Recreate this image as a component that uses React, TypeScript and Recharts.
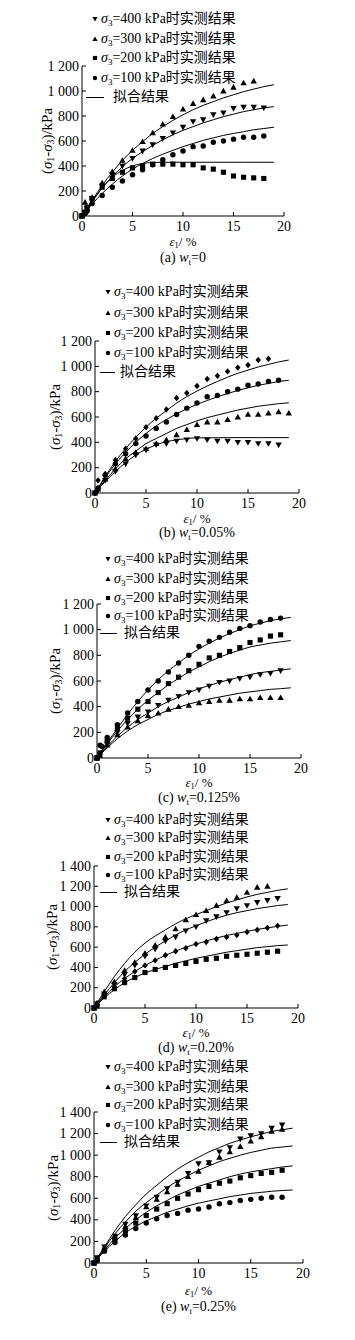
import React from 'react';
import { ComposedChart, Line, Scatter, XAxis, YAxis } from 'recharts';

type Pt = [number, number];

// ---------- tick labels / text ----------
const X_TICKS = [0, 5, 10, 15, 20];
const Y_TICKS_1200 = [0, 200, 400, 600, 800, 1000, 1200];
const Y_TICKS_1400 = [0, 200, 400, 600, 800, 1000, 1200, 1400];
const CONFINING = ['400', '300', '200', '100'];
const FIT_LABEL = '拟合结果';
const CAPTION_LETTERS = ['(a)', '(b)', '(c)', '(d)', '(e)'];
const CAPTION_VALUES = ['0', '0.05%', '0.125%', '0.20%', '0.25%'];

// ---------- panel (a) w_t = 0 ----------
const a400: Pt[] = [[0,0],[0.3,30],[0.5,60],[1,140],[2,240],[3,330],[4,400],[5,460],[6,520],[7,570],[8,620],[9,665],[10,710],[11,755],[12,770],[13,810],[14,825],[15,860],[16,870],[17,870],[18,865]];
const a300: Pt[] = [[0,0],[0.3,110],[0.5,60],[1,150],[2,265],[3,355],[4,445],[5,525],[6,595],[7,665],[8,735],[9,795],[10,855],[11,900],[12,930],[13,960],[14,1000],[15,1030],[16,1065],[17,1080]];
const a200: Pt[] = [[0,0],[0.3,30],[0.5,70],[1,140],[2,230],[3,300],[4,350],[5,385],[6,400],[7,415],[8,415],[9,415],[10,410],[11,410],[12,385],[13,375],[14,350],[15,320],[16,310],[17,305],[18,300]];
const a100: Pt[] = [[0,0],[0.3,20],[0.5,40],[1,100],[2,165],[3,230],[4,280],[5,330],[6,370],[7,410],[8,450],[9,490],[10,520],[11,555],[12,560],[13,590],[14,600],[15,615],[16,630],[17,630],[18,640]];
const aFit1: Pt[] = [[0,0],[1,125],[2,245],[3,350],[4,445],[5,525],[6,595],[7,660],[8,715],[9,765],[10,810],[11,850],[12,885],[13,915],[14,945],[15,970],[16,995],[17,1015],[18,1035],[19,1050]];
const aFit2: Pt[] = [[0,0],[1,115],[2,225],[3,315],[4,395],[5,460],[6,515],[7,565],[8,610],[9,650],[10,685],[11,715],[12,745],[13,770],[14,795],[15,815],[16,835],[17,850],[18,865],[19,875]];
const aFit3: Pt[] = [[0,0],[1,95],[2,180],[3,255],[4,320],[5,375],[6,420],[7,460],[8,495],[9,525],[10,555],[11,580],[12,605],[13,625],[14,645],[15,660],[16,675],[17,690],[18,700],[19,710]];
const aFit4: Pt[] = [[0,0],[1,115],[2,225],[3,310],[4,365],[5,400],[6,420],[7,428],[8,430],[10,430],[13,430],[16,430],[19,430]];

// ---------- panel (b) w_t = 0.05% ----------
const bTop: Pt[] = [[0,0],[0.3,100],[1,150],[2,260],[3,350],[4,430],[5,520],[6,590],[7,660],[8,750],[9,790],[10,845],[11,900],[12,925],[13,960],[14,990],[15,1010],[16,1050],[17,1060]];
const bSecond: Pt[] = [[0,0],[0.3,40],[1,140],[2,230],[3,310],[4,390],[5,450],[6,510],[7,560],[8,620],[9,670],[10,710],[11,760],[12,770],[13,800],[14,820],[15,850],[16,860],[17,880],[18,890]];
const bThird: Pt[] = [[0,0],[0.3,30],[1,110],[2,190],[3,270],[4,320],[5,350],[6,390],[7,420],[8,460],[9,500],[10,540],[11,560],[12,560],[13,580],[14,600],[15,620],[16,620],[17,630],[18,640],[19,630]];
const bFourth: Pt[] = [[0,0],[0.3,20],[1,100],[2,170],[3,230],[4,300],[5,340],[6,380],[7,390],[8,410],[9,420],[10,430],[11,420],[12,410],[13,410],[14,400],[15,400],[16,390],[17,390],[18,380]];
const bFit1: Pt[] = [[0,0],[1,130],[2,250],[3,350],[4,440],[5,520],[6,590],[7,650],[8,710],[9,760],[10,805],[11,845],[12,880],[13,915],[14,945],[15,970],[16,995],[17,1015],[18,1035],[19,1050]];
const bFit2: Pt[] = [[0,0],[1,120],[2,230],[3,320],[4,400],[5,470],[6,530],[7,580],[8,625],[9,665],[10,700],[11,730],[12,760],[13,785],[14,810],[15,830],[16,850],[17,865],[18,880],[19,890]];
const bFit3: Pt[] = [[0,0],[1,100],[2,190],[3,270],[4,330],[5,390],[6,430],[7,470],[8,510],[9,540],[10,570],[11,595],[12,615],[13,635],[14,655],[15,670],[16,685],[17,695],[18,705],[19,712]];
const bFit4: Pt[] = [[0,0],[1,90],[2,170],[3,240],[4,300],[5,345],[6,380],[7,405],[8,420],[9,430],[10,435],[13,437],[16,437],[19,437]];

// ---------- panel (c) w_t = 0.125% ----------
const cTop: Pt[] = [[0,0],[0.3,100],[0.5,90],[1,160],[2,260],[3,350],[4,440],[5,530],[6,600],[7,670],[8,740],[9,800],[10,870],[11,910],[12,940],[13,980],[14,1010],[15,1030],[16,1060],[17,1080],[18,1090]];
const cSecond: Pt[] = [[0,0],[0.3,40],[1,130],[2,230],[3,310],[4,380],[5,440],[6,510],[7,580],[8,630],[9,680],[10,730],[11,780],[12,800],[13,830],[14,860],[15,900],[16,920],[17,950],[18,960]];
const cThird: Pt[] = [[0,0],[0.3,30],[1,110],[2,200],[3,270],[4,320],[5,360],[6,410],[7,450],[8,480],[9,510],[10,530],[11,560],[12,590],[13,600],[14,620],[15,630],[16,650],[17,660],[18,680]];
const cFourth: Pt[] = [[0,0],[0.3,20],[1,100],[2,180],[3,240],[4,290],[5,330],[6,350],[7,380],[8,400],[9,410],[10,430],[11,440],[12,450],[13,450],[14,460],[15,460],[16,470],[17,470],[18,470]];
const cFit1: Pt[] = [[0,0],[1,120],[2,230],[3,340],[4,440],[5,530],[6,610],[7,680],[8,740],[9,800],[10,850],[11,895],[12,935],[13,970],[14,1000],[15,1030],[16,1050],[17,1070],[18,1085],[19,1095]];
const cFit2: Pt[] = [[0,0],[1,110],[2,210],[3,300],[4,380],[5,450],[6,510],[7,570],[8,620],[9,670],[10,710],[11,750],[12,785],[13,815],[14,840],[15,865],[16,880],[17,895],[18,905],[19,915]];
const cFit3: Pt[] = [[0,0],[1,90],[2,170],[3,240],[4,300],[5,350],[6,400],[7,440],[8,475],[9,510],[10,540],[11,565],[12,590],[13,610],[14,630],[15,650],[16,665],[17,675],[18,685],[19,695]];
const cFit4: Pt[] = [[0,0],[1,80],[2,150],[3,210],[4,260],[5,300],[6,340],[7,370],[8,395],[9,420],[10,440],[11,460],[12,475],[13,490],[14,505],[15,515],[16,525],[17,535],[18,540],[19,547]];

// ---------- panel (d) w_t = 0.20% ----------
const dTop: Pt[] = [[0,0],[0.3,50],[1,160],[2,260],[3,370],[4,450],[5,540],[6,620],[7,700],[8,780],[9,870],[10,920],[11,960],[12,1010],[13,1060],[14,1090],[15,1140],[16,1190],[17,1200]];
const dSecond: Pt[] = [[0,0],[0.3,40],[1,140],[2,230],[3,330],[4,420],[5,510],[6,580],[7,660],[8,700],[9,760],[10,800],[11,860],[12,900],[13,940],[14,980],[15,1010],[16,1040],[17,1060],[18,1080]];
const dThird: Pt[] = [[0,0],[0.3,30],[1,120],[2,210],[3,290],[4,360],[5,420],[6,470],[7,520],[8,560],[9,590],[10,630],[11,650],[12,680],[13,700],[14,720],[15,750],[16,770],[17,790],[18,810]];
const dFourth: Pt[] = [[0,0],[0.3,20],[1,110],[2,190],[3,250],[4,300],[5,350],[6,380],[7,400],[8,420],[9,440],[10,460],[11,480],[12,490],[13,510],[14,520],[15,530],[16,540],[17,550],[18,560]];
const dFit1: Pt[] = [[0,0],[1,160],[2,310],[3,440],[4,550],[5,640],[6,710],[7,770],[8,830],[9,880],[10,920],[11,960],[12,1000],[13,1035],[14,1065],[15,1095],[16,1120],[17,1140],[18,1160],[19,1175]];
const dFit2: Pt[] = [[0,0],[1,130],[2,250],[3,360],[4,450],[5,530],[6,600],[7,660],[8,720],[9,770],[10,810],[11,850],[12,885],[13,915],[14,940],[15,960],[16,980],[17,995],[18,1010],[19,1020]];
const dFit3: Pt[] = [[0,0],[1,110],[2,210],[3,290],[4,360],[5,420],[6,470],[7,520],[8,560],[9,600],[10,630],[11,660],[12,690],[13,715],[14,735],[15,755],[16,775],[17,790],[18,805],[19,818]];
const dFit4: Pt[] = [[0,0],[1,100],[2,180],[3,250],[4,300],[5,345],[6,380],[7,410],[8,440],[9,465],[10,490],[11,510],[12,530],[13,550],[14,565],[15,580],[16,595],[17,605],[18,615],[19,621]];

// ---------- panel (e) w_t = 0.25% ----------
const eTop: Pt[] = [[0,0],[0.3,50],[1,150],[2,250],[3,360],[4,440],[5,530],[6,610],[7,690],[8,750],[9,830],[10,920],[11,930],[12,1030],[13,1070],[14,1150],[15,1180],[16,1200],[17,1250],[18,1280]];
const eSecond: Pt[] = [[0,0],[0.3,40],[1,140],[2,240],[3,340],[4,420],[5,520],[6,590],[7,660],[8,730],[9,800],[10,850],[11,930],[12,980],[13,1030],[14,1080],[15,1130],[16,1170],[17,1220],[18,1240]];
const eThird: Pt[] = [[0,0],[0.3,30],[1,120],[2,220],[3,300],[4,370],[5,440],[6,500],[7,550],[8,600],[9,640],[10,680],[11,710],[12,740],[13,760],[14,790],[15,810],[16,830],[17,840],[18,860]];
const eFourth: Pt[] = [[0,0],[0.3,20],[1,110],[2,190],[3,260],[4,320],[5,370],[6,410],[7,440],[8,460],[9,490],[10,500],[11,520],[12,550],[13,560],[14,580],[15,590],[16,600],[17,610],[18,610]];
const eFit1: Pt[] = [[0,0],[1,150],[2,300],[3,430],[4,540],[5,640],[6,720],[7,800],[8,870],[9,930],[10,980],[11,1030],[12,1070],[13,1110],[14,1140],[15,1170],[16,1195],[17,1220],[18,1235],[19,1250]];
const eFit2: Pt[] = [[0,0],[1,140],[2,270],[3,380],[4,480],[5,560],[6,630],[7,700],[8,760],[9,810],[10,860],[11,900],[12,940],[13,970],[14,1000],[15,1025],[16,1045],[17,1065],[18,1075],[19,1085]];
const eFit3: Pt[] = [[0,0],[1,120],[2,230],[3,320],[4,400],[5,470],[6,530],[7,580],[8,630],[9,670],[10,710],[11,740],[12,770],[13,800],[14,825],[15,845],[16,860],[17,875],[18,890],[19,900]];
const eFit4: Pt[] = [[0,0],[1,110],[2,200],[3,280],[4,340],[5,390],[6,430],[7,470],[8,500],[9,530],[10,555],[11,575],[12,595],[13,615],[14,630],[15,645],[16,655],[17,665],[18,672],[19,677]];

// ---------- rendering ----------
const SERIF = "'Liberation Serif', 'Times New Roman', 'Noto Sans CJK SC', serif";
type Kind = 'up' | 'down' | 'square' | 'circle' | 'diamond';

function markerEl(kind: Kind, cx: number, cy: number, s: number) {
  switch (kind) {
    case 'up':
      return <polygon points={`${cx},${cy - s} ${cx - s},${cy + s * 0.75} ${cx + s},${cy + s * 0.75}`} fill="#000" />;
    case 'down':
      return <polygon points={`${cx},${cy + s} ${cx - s},${cy - s * 0.75} ${cx + s},${cy - s * 0.75}`} fill="#000" />;
    case 'square':
      return <rect x={cx - s * 0.8} y={cy - s * 0.8} width={s * 1.6} height={s * 1.6} fill="#000" />;
    case 'circle':
      return <circle cx={cx} cy={cy} r={s * 0.85} fill="#000" />;
    case 'diamond':
      return <polygon points={`${cx},${cy - s} ${cx + s * 0.85},${cy} ${cx},${cy + s} ${cx - s * 0.85},${cy}`} fill="#000" />;
  }
}

const shapeOf = (kind: Kind) => (props: any) => {
  const { cx, cy } = props;
  if (cx == null || cy == null) return <g />;
  return markerEl(kind, cx, cy, 3.2);
};

const fmtY = (v: number) => (v >= 1000 ? `${Math.floor(v / 1000)} ${String(v % 1000).padStart(3, '0')}` : String(v));

const XTick = (props: any) => {
  const { x, y, payload } = props;
  return (
    <g>
      {payload.value !== 0 && <line x1={x} x2={x} y1={y} y2={y - 4} stroke="#000" />}
      <text x={x} y={y + 10} textAnchor="middle" dominantBaseline="central" fontSize={14} fontFamily={SERIF} fill="#000">
        {payload.value}
      </text>
    </g>
  );
};

const YTick = (props: any) => {
  const { x, y, payload } = props;
  return (
    <g>
      {payload.value !== 0 && <line x1={x} x2={x + 4} y1={y} y2={y} stroke="#000" />}
      <text x={x - 3} y={y} textAnchor="end" dominantBaseline="central" fontSize={14} fontFamily={SERIF} fill="#000">
        {fmtY(payload.value)}
      </text>
    </g>
  );
};

interface PanelDef {
  top: number; height: number;
  plotLeft: number; plotRight: number; plotTop: number; plotBottom: number;
  yMax: number; yTicks: number[];
  series: { pts: Pt[]; kind: Kind }[];
  fits: Pt[][];
  legendMarkerX: number; legendTextX: number; legendLineX: number; legendLineW: number; legendFitTextX: number;
  legendRows: number[];
  yLabelX: number; xLabelY: number; captionY: number;
  idx: number;
}

const PANELS: PanelDef[] = [
  { idx: 0, top: 0, height: 270, plotLeft: 82, plotRight: 284, plotTop: 66, plotBottom: 216, yMax: 1200, yTicks: Y_TICKS_1200,
    series: [{ pts: a400, kind: 'down' }, { pts: a300, kind: 'up' }, { pts: a200, kind: 'square' }, { pts: a100, kind: 'circle' }],
    fits: [aFit1, aFit2, aFit3, aFit4],
    legendMarkerX: 95, legendTextX: 101, legendLineX: 86, legendLineW: 18, legendFitTextX: 113,
    legendRows: [19, 39, 58, 78, 97], yLabelX: 47, xLabelY: 241, captionY: 258 },
  { idx: 1, top: 270, height: 270, plotLeft: 95, plotRight: 299, plotTop: 341, plotBottom: 493, yMax: 1200, yTicks: Y_TICKS_1200,
    series: [{ pts: bTop, kind: 'diamond' }, { pts: bSecond, kind: 'circle' }, { pts: bThird, kind: 'up' }, { pts: bFourth, kind: 'down' }],
    fits: [bFit1, bFit2, bFit3, bFit4],
    legendMarkerX: 108, legendTextX: 114, legendLineX: 100, legendLineW: 15, legendFitTextX: 120,
    legendRows: [292, 313, 333, 353, 372], yLabelX: 55, xLabelY: 518, captionY: 533 },
  { idx: 2, top: 540, height: 265, plotLeft: 97, plotRight: 301, plotTop: 604, plotBottom: 758, yMax: 1200, yTicks: Y_TICKS_1200,
    series: [{ pts: cTop, kind: 'circle' }, { pts: cSecond, kind: 'square' }, { pts: cThird, kind: 'down' }, { pts: cFourth, kind: 'up' }],
    fits: [cFit1, cFit2, cFit3, cFit4],
    legendMarkerX: 108, legendTextX: 114, legendLineX: 100, legendLineW: 17, legendFitTextX: 124,
    legendRows: [559, 579, 598, 616, 633], yLabelX: 55, xLabelY: 782, captionY: 798 },
  { idx: 3, top: 805, height: 255, plotLeft: 94, plotRight: 298, plotTop: 866, plotBottom: 1008, yMax: 1400, yTicks: Y_TICKS_1400,
    series: [{ pts: dTop, kind: 'up' }, { pts: dSecond, kind: 'down' }, { pts: dThird, kind: 'diamond' }, { pts: dFourth, kind: 'square' }],
    fits: [dFit1, dFit2, dFit3, dFit4],
    legendMarkerX: 108, legendTextX: 114, legendLineX: 100, legendLineW: 17, legendFitTextX: 124,
    legendRows: [820, 838, 857, 875, 892], yLabelX: 52, xLabelY: 1032, captionY: 1048 },
  { idx: 4, top: 1060, height: 280, plotLeft: 94, plotRight: 303, plotTop: 1112, plotBottom: 1263, yMax: 1400, yTicks: Y_TICKS_1400,
    series: [{ pts: eTop, kind: 'down' }, { pts: eSecond, kind: 'up' }, { pts: eThird, kind: 'square' }, { pts: eFourth, kind: 'circle' }],
    fits: [eFit1, eFit2, eFit3, eFit4],
    legendMarkerX: 108, legendTextX: 114, legendLineX: 100, legendLineW: 17, legendFitTextX: 124,
    legendRows: [1067, 1087, 1105, 1125, 1142], yLabelX: 53, xLabelY: 1290, captionY: 1307 },
];

const LEGEND_KINDS: Kind[] = ['down', 'up', 'square', 'circle'];
const Y_AXIS_W = 40;
const X_AXIS_H = 20;

const toObj = (pts: Pt[]) => pts.map(([x, y]) => ({ x, y }));

const textBase: React.CSSProperties = {
  position: 'absolute', whiteSpace: 'nowrap', fontFamily: SERIF, color: '#000', lineHeight: 1,
};
const subStyle: React.CSSProperties = { fontSize: '0.65em', verticalAlign: '-0.3em', lineHeight: 0 };

function Panel({ p }: { p: PanelDef }) {
  const margin = {
    top: p.plotTop - p.top,
    left: p.plotLeft - Y_AXIS_W,
    right: 355 - p.plotRight,
    bottom: p.top + p.height - p.plotBottom - X_AXIS_H,
  };
  const cx = (p.plotLeft + p.plotRight) / 2;
  const cy = (p.plotTop + p.plotBottom) / 2;
  return (
    <>
      <div style={{ position: 'absolute', left: 0, top: p.top, width: 355, height: p.height }}>
        <ComposedChart width={355} height={p.height} margin={margin}>
          <XAxis type="number" dataKey="x" domain={[0, 20]} ticks={X_TICKS} interval={0} height={X_AXIS_H}
            axisLine={{ stroke: '#000', strokeWidth: 1 }} tickLine={false} tickSize={0} tickMargin={0} tick={<XTick />} />
          <YAxis type="number" dataKey="y" domain={[0, p.yMax]} ticks={p.yTicks} interval={0} width={Y_AXIS_W}
            axisLine={{ stroke: '#000', strokeWidth: 1 }} tickLine={false} tickSize={0} tickMargin={0} tick={<YTick />} />
          {p.fits.map((f, i) => (
            <Line key={`f${i}`} data={toObj(f)} dataKey="y" type="monotone" stroke="#000" strokeWidth={1}
              dot={false} activeDot={false} isAnimationActive={false} />
          ))}
          {p.series.map((s, i) => (
            <Scatter key={`s${i}`} data={toObj(s.pts)} dataKey="y" shape={shapeOf(s.kind)} isAnimationActive={false} />
          ))}
        </ComposedChart>
      </div>
      {/* legend */}
      {CONFINING.map((v, i) => (
        <div key={`l${i}`} style={{ ...textBase, left: p.legendMarkerX - 4, top: p.legendRows[i], transform: 'translateY(-50%)', fontSize: 14, display: 'flex', alignItems: 'center' }}>
          <svg width={8} height={8} style={{ display: 'block' }}>{markerEl(LEGEND_KINDS[i], 4, 4, 2.6)}</svg>
          <span style={{ position: 'absolute', left: p.legendTextX - p.legendMarkerX + 4 }}>
            <i>σ</i><sub style={subStyle}>3</sub>={v} kPa时实测结果
          </span>
        </div>
      ))}
      <div style={{ ...textBase, left: p.legendLineX, top: p.legendRows[4], width: p.legendLineW, height: 1, background: '#000' }} />
      <div style={{ ...textBase, left: p.legendFitTextX, top: p.legendRows[4], transform: 'translateY(-50%)', fontSize: 14 }}>{FIT_LABEL}</div>
      {/* y label */}
      <div style={{ ...textBase, left: p.yLabelX, top: cy, transform: 'translate(-50%, -50%) rotate(-90deg)', fontSize: 15 }}>
        (<i>σ</i><sub style={subStyle}>1</sub>-<i>σ</i><sub style={subStyle}>3</sub>)/kPa
      </div>
      {/* x label */}
      <div style={{ ...textBase, left: cx, top: p.xLabelY, transform: 'translate(-50%, -50%)', fontSize: 13 }}>
        <i>ε</i><sub style={subStyle}>1</sub>/ %
      </div>
      {/* caption */}
      <div style={{ ...textBase, left: cx, top: p.captionY, transform: 'translate(-50%, -50%)', fontSize: 14 }}>
        {CAPTION_LETTERS[p.idx]} <i>w</i><sub style={subStyle}>t</sub>={CAPTION_VALUES[p.idx]}
      </div>
    </>
  );
}

export default function App() {
  return (
    <div style={{ position: 'absolute', left: 0, top: 0, width: 355, height: 1340, background: '#fff', overflow: 'hidden' }}>
      {PANELS.map((p) => <Panel key={p.idx} p={p} />)}
    </div>
  );
}
